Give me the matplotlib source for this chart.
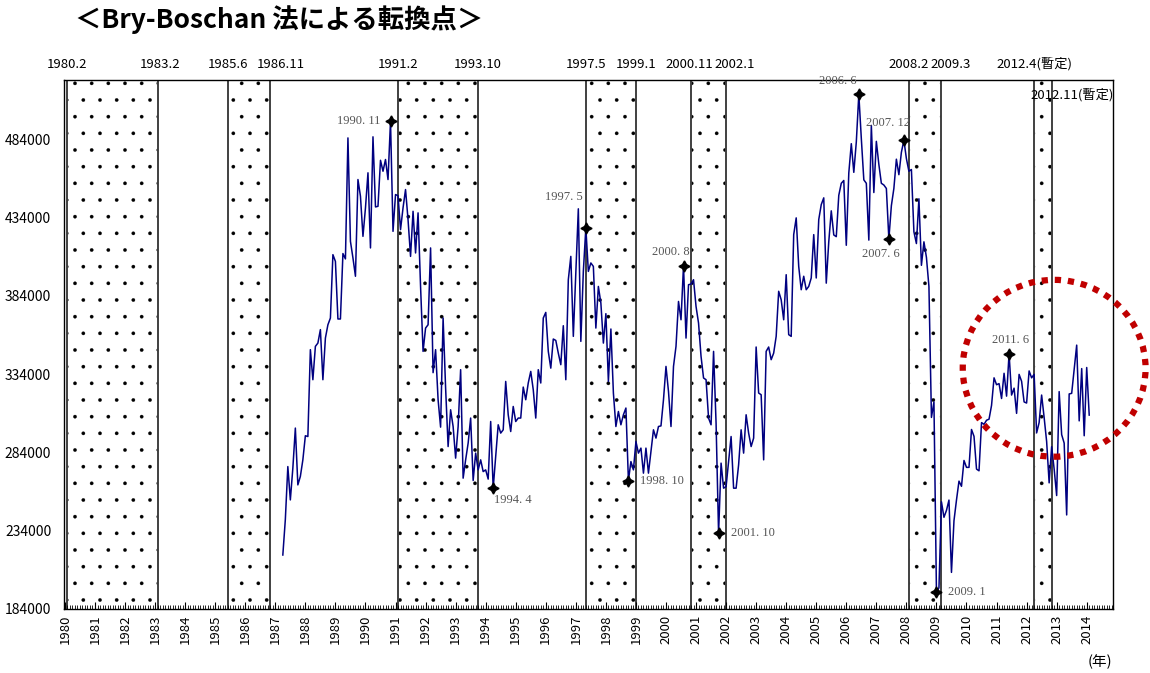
import numpy as np
import matplotlib.pyplot as plt
from matplotlib.patches import Ellipse
from matplotlib.ticker import MultipleLocator

plt.rcParams['font.family'] = ['Noto Sans CJK JP', 'DejaVu Sans']
plt.rcParams['hatch.linewidth'] = 0.2

# monthly index, series starts April 1987
first_year, first_month = 1987, 4
values = [
    218500, 241100, 275000, 253700, 274000, 299600, 263300, 268700, 279300,                  # 1987
    294700, 294200, 349700, 330500, 351800, 353900, 362500, 330500, 357100, 365600, 369900, 410400,  # 1988
    406100, 369300, 369300, 411100, 407700, 485000, 418900, 408300, 396600, 458400, 447700, 422100,  # 1989
    440300, 462700, 414700, 485700, 440900, 441300, 470700, 463700, 471200, 458400, 495700, 425300,  # 1990
    448800, 448100, 426400, 440300, 452000, 432800, 409300, 438100, 411500, 437100, 390100, 348600,  # 1991
    363500, 365600, 414700, 335000, 349700, 317700, 300200, 369900, 325200, 287800, 311300, 300600,  # 1992
    280400, 300600, 336900, 267600, 279300, 290000, 306000, 266100, 283600, 272900, 279300, 271800,  # 1993
    272900, 267000, 303800, 261200, 281400, 301700, 296400, 298500, 329400, 308100, 297400, 313400,  # 1994
    303800, 306000, 306000, 325800, 317700, 328400, 335800, 324100, 306000, 336900, 328400, 369900,  # 1995
    373500, 348600, 337900, 356500, 355600, 347500, 340100, 365000, 330500, 394400, 409300, 358200,  # 1996
    398700, 439700, 355000, 399700, 427500, 399700, 405100, 402900, 363500, 390100, 379500, 353900,  # 1997
    372700, 329400, 362900, 322000, 300600, 310200, 301700, 308100, 312400, 266100, 278200, 272900,  # 1998
    291000, 283600, 286800, 270800, 286800, 270800, 284600, 298500, 293200, 300600, 301000, 317700,  # 1999
    339000, 323000, 300600, 339000, 351800, 380500, 368800, 403400, 357100, 391200, 391600, 394400,  # 2000
    377300, 366700, 345400, 331600, 330500, 306000, 301700, 348600, 302800, 232400, 277200, 261200,  # 2001
    262200, 278000, 294200, 261200, 261200, 276100, 298500, 283600, 308100, 296400, 287800, 293200,  # 2002
    351400, 322000, 320900, 279300, 348600, 351400, 343300, 347500, 358200, 387000, 381600, 368800,  # 2003
    397600, 359300, 358200, 423200, 433900, 402900, 388000, 396600, 388000, 390100, 395500, 423200,  # 2004
    395500, 432800, 442400, 446700, 392200, 418600, 438400, 423000, 421900, 448300, 456000, 457800,  # 2005
    416400, 462600, 481300, 463000, 482400, 512800, 484600, 458200, 456000, 419700, 493000, 450100,  # 2006
    482800, 468100, 456000, 454900, 452700, 420400, 441700, 452700, 471400, 461500, 475800, 483500,  # 2007
    471800, 463700, 464800, 425000, 417500, 446100, 403600, 418600, 408700, 390000, 306400, 316300,  # 2008
    194900, 197500, 252500, 242600, 247000, 253600, 207400, 240400, 253600, 265700, 262400, 278900,  # 2009
    274500, 274500, 298700, 294300, 273400, 272300, 303100, 302000, 304600, 305300, 314100, 331700,  # 2010
    327300, 328000, 318500, 334600, 320000, 347100, 320700, 325100, 309000, 333900, 329500, 316300,  # 2011
    315600, 336100, 331700, 333900, 296500, 303100, 320700, 306400, 291000, 264600, 287700, 273400,  # 2012
    256500, 322900, 295400, 290000, 244100, 321400, 321800, 337200, 352600, 304200, 337600, 294700,  # 2013
    338300, 307900,                                                                          # 2014
]

years = list(range(1980, 2015))
contractions = [("1980.2", "1983.2"), ("1985.6", "1986.11"), ("1991.2", "1993.10"),
                ("1997.5", "1999.1"), ("2000.11", "2002.1"), ("2008.2", "2009.3"),
                ("2012.4(暫定)", "2012.11(暫定)")]
turning_points = ["1990.11", "1994.4", "1997.5", "1998.10", "2000.8", "2001.10",
                  "2006.6", "2007.6", "2007.12", "2009.1", "2011.6"]


def month_index(label):
    y, m = label.replace("(暫定)", "").split(".")
    return (int(y) - 1980) * 12 + int(m) - 1


px = 0.72  # points per pixel at dpi 100

fig = plt.figure(figsize=(11.5, 6.73), dpi=100)
ax = fig.add_axes([63.7 / 1150, 1 - 609 / 673, (1113 - 63.7) / 1150, (609 - 80) / 673])

x = np.arange(len(values)) + (first_year - 1980) * 12 + first_month - 1

# contraction bands + boundary lines
for a, b in contractions:
    ax.axvspan(month_index(a), month_index(b), facecolor='none', edgecolor='black',
               hatch='.', linewidth=0, zorder=0)
    for lab in (a, b):
        ax.axvline(month_index(lab), color='#404040', lw=1.4, zorder=1)

ax.plot(x, values, color='#000080', lw=1.1, zorder=3)

# turning point markers and labels
tp_style = {
    "1990.11": (-10, 0, 'right'), "1994.4": (1, -12, 'left'), "1997.5": (-3, 31, 'right'),
    "1998.10": (12, 0, 'left'), "2000.8": (6, 14, 'right'), "2001.10": (12, 0, 'left'),
    "2006.6": (-2, 13, 'right'), "2007.6": (11, -15, 'right'), "2007.12": (6, 17, 'right'),
    "2009.1": (12, 0, 'left'), "2011.6": (1, 14, 'center'),
}
for lab in turning_points:
    mi = month_index(lab)
    yv = values[mi - x[0]]
    ax.plot(mi, yv, marker=(4, 1, 0), ms=8, color='black', zorder=4)
    dx, dy, ha = tp_style[lab]
    y_, m_ = lab.split(".")
    ax.annotate(f"{y_}. {m_}", xy=(mi, yv), xytext=(dx * px, dy * px),
                textcoords='offset points', ha=ha, va='center', fontsize=9,
                family='Liberation Serif', color='#555555', zorder=5,
                annotation_clip=False)

# boundary labels above the plot
top_dx = {"1983.2": 2, "1986.11": 10, "2000.11": -2, "2002.1": 9, "2009.3": 9}
for a, b in contractions:
    for lab in (a, b):
        if lab == "2012.11(暫定)":
            ax.annotate(lab, xy=(month_index(lab), 1), xycoords=('data', 'axes fraction'),
                        xytext=(-21 * px, -15 * px), textcoords='offset points',
                        ha='left', va='center', fontsize=9.5)
        else:
            ax.annotate(lab, xy=(month_index(lab), 1), xycoords=('data', 'axes fraction'),
                        xytext=(top_dx.get(lab, 0) * px, 16 * px), textcoords='offset points',
                        ha='center', va='center', fontsize=9.5)

# highlight ellipse
ax.add_patch(Ellipse((395, 337800), 73, 113000, fill=False, edgecolor='#c00000',
                     lw=4.5, linestyle=(0, (1, 1.1)), clip_on=False, zorder=6))

ax.set_xlim(-0.5, 418.5)
ax.set_ylim(184000, 522000)
ax.set_xticks([(y - 1980) * 12 for y in years])
ax.set_xticklabels([str(y) for y in years], rotation=90, fontsize=9.5)
ax.xaxis.set_minor_locator(MultipleLocator(1))
ax.tick_params(axis='x', which='major', direction='in', length=5, pad=4)
ax.tick_params(axis='x', which='minor', direction='in', length=3)
ax.set_yticks(range(184000, 484001, 50000))
ax.set_yticklabels([str(v) for v in range(184000, 484001, 50000)], fontsize=10)
ax.tick_params(axis='y', direction='in', length=0, pad=9)
for s in ax.spines.values():
    s.set_color('black')
    s.set_linewidth(1)

fig.text(75 / 1150, 1 - 20 / 673, "＜Bry-Boschan 法による転換点＞", fontsize=19,
         fontweight='bold', ha='left', va='center')
fig.text(1100 / 1150, 1 - 662 / 673, "(年)", fontsize=10.5, ha='center', va='center')

fig.savefig("out.png", dpi=100)
